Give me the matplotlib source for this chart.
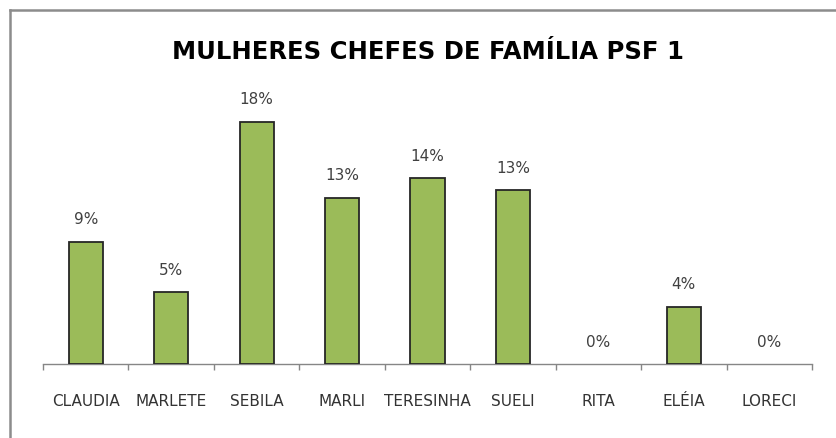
import matplotlib
matplotlib.use("Agg")
import matplotlib.pyplot as plt
from matplotlib.lines import Line2D

categories = ["CLAUDIA", "MARLETE", "SEBILA", "MARLI", "TERESINHA", "SUELI", "RITA", "ELÉIA", "LORECI"]
values = [9.26, 5.46, 18.32, 12.58, 14.06, 13.15, 0.0, 4.35, 0.0]
value_labels = ["9%", "5%", "18%", "13%", "14%", "13%", "0%", "4%", "0%"]
title = "MULHERES CHEFES DE FAMÍLIA PSF 1"

W, H = 837, 439
fig = plt.figure(figsize=(W / 100, H / 100), dpi=100)
fig.patch.set_facecolor("white")

# plot area in pixels
left_px, right_px = 43, 812
base_px = 365.3
ymax = 20
px_per_unit = 13.25
top_px = base_px - ymax * px_per_unit
ax = fig.add_axes([left_px / W, (H - base_px) / H, (right_px - left_px) / W, (base_px - top_px) / H])

x = list(range(len(categories)))
edges = ["#262626" if v > 0 else "none" for v in values]
ax.bar(x, values, width=0.4, color="#9BBB59", edgecolor=edges, linewidth=1.3, zorder=3)
ax.set_xlim(-0.5, len(categories) - 0.5)
ax.set_ylim(0, ymax)

for xi, v, lab in zip(x, values, value_labels):
    ax.annotate(lab, (xi, v), xytext=(0, 16.5), textcoords="offset points",
                ha="center", va="center", fontsize=11, color="#404040", annotation_clip=False)

for s in ["top", "right", "left"]:
    ax.spines[s].set_visible(False)
ax.spines["bottom"].set_color("#868686")
ax.spines["bottom"].set_linewidth(1.0)
ax.set_yticks([])

ax.set_xticks([i - 0.5 for i in range(len(categories) + 1)])
ax.set_xticklabels([])
ax.set_xticks(x, minor=True)
ax.set_xticklabels(categories, minor=True)
ax.tick_params(axis="x", which="major", length=4, color="#868686", width=1.0, direction="out")
ax.tick_params(axis="x", which="minor", length=0, pad=21, labelsize=11, labelcolor="#333333")

fig.text(428 / W, 1 - 52 / H, title, ha="center", va="center", fontsize=17.5,
         fontweight="bold", color="black")

# outer chart frame (cropped on right/bottom)
fig.add_artist(Line2D([10 / W, 1.0], [1 - 10.5 / H, 1 - 10.5 / H], transform=fig.transFigure,
                      color="#8c8c8c", linewidth=1.8))
fig.add_artist(Line2D([10 / W, 10 / W], [0.0, 1 - 10.5 / H], transform=fig.transFigure,
                      color="#8c8c8c", linewidth=1.8))

fig.savefig("out.png", dpi=100, facecolor="white")
